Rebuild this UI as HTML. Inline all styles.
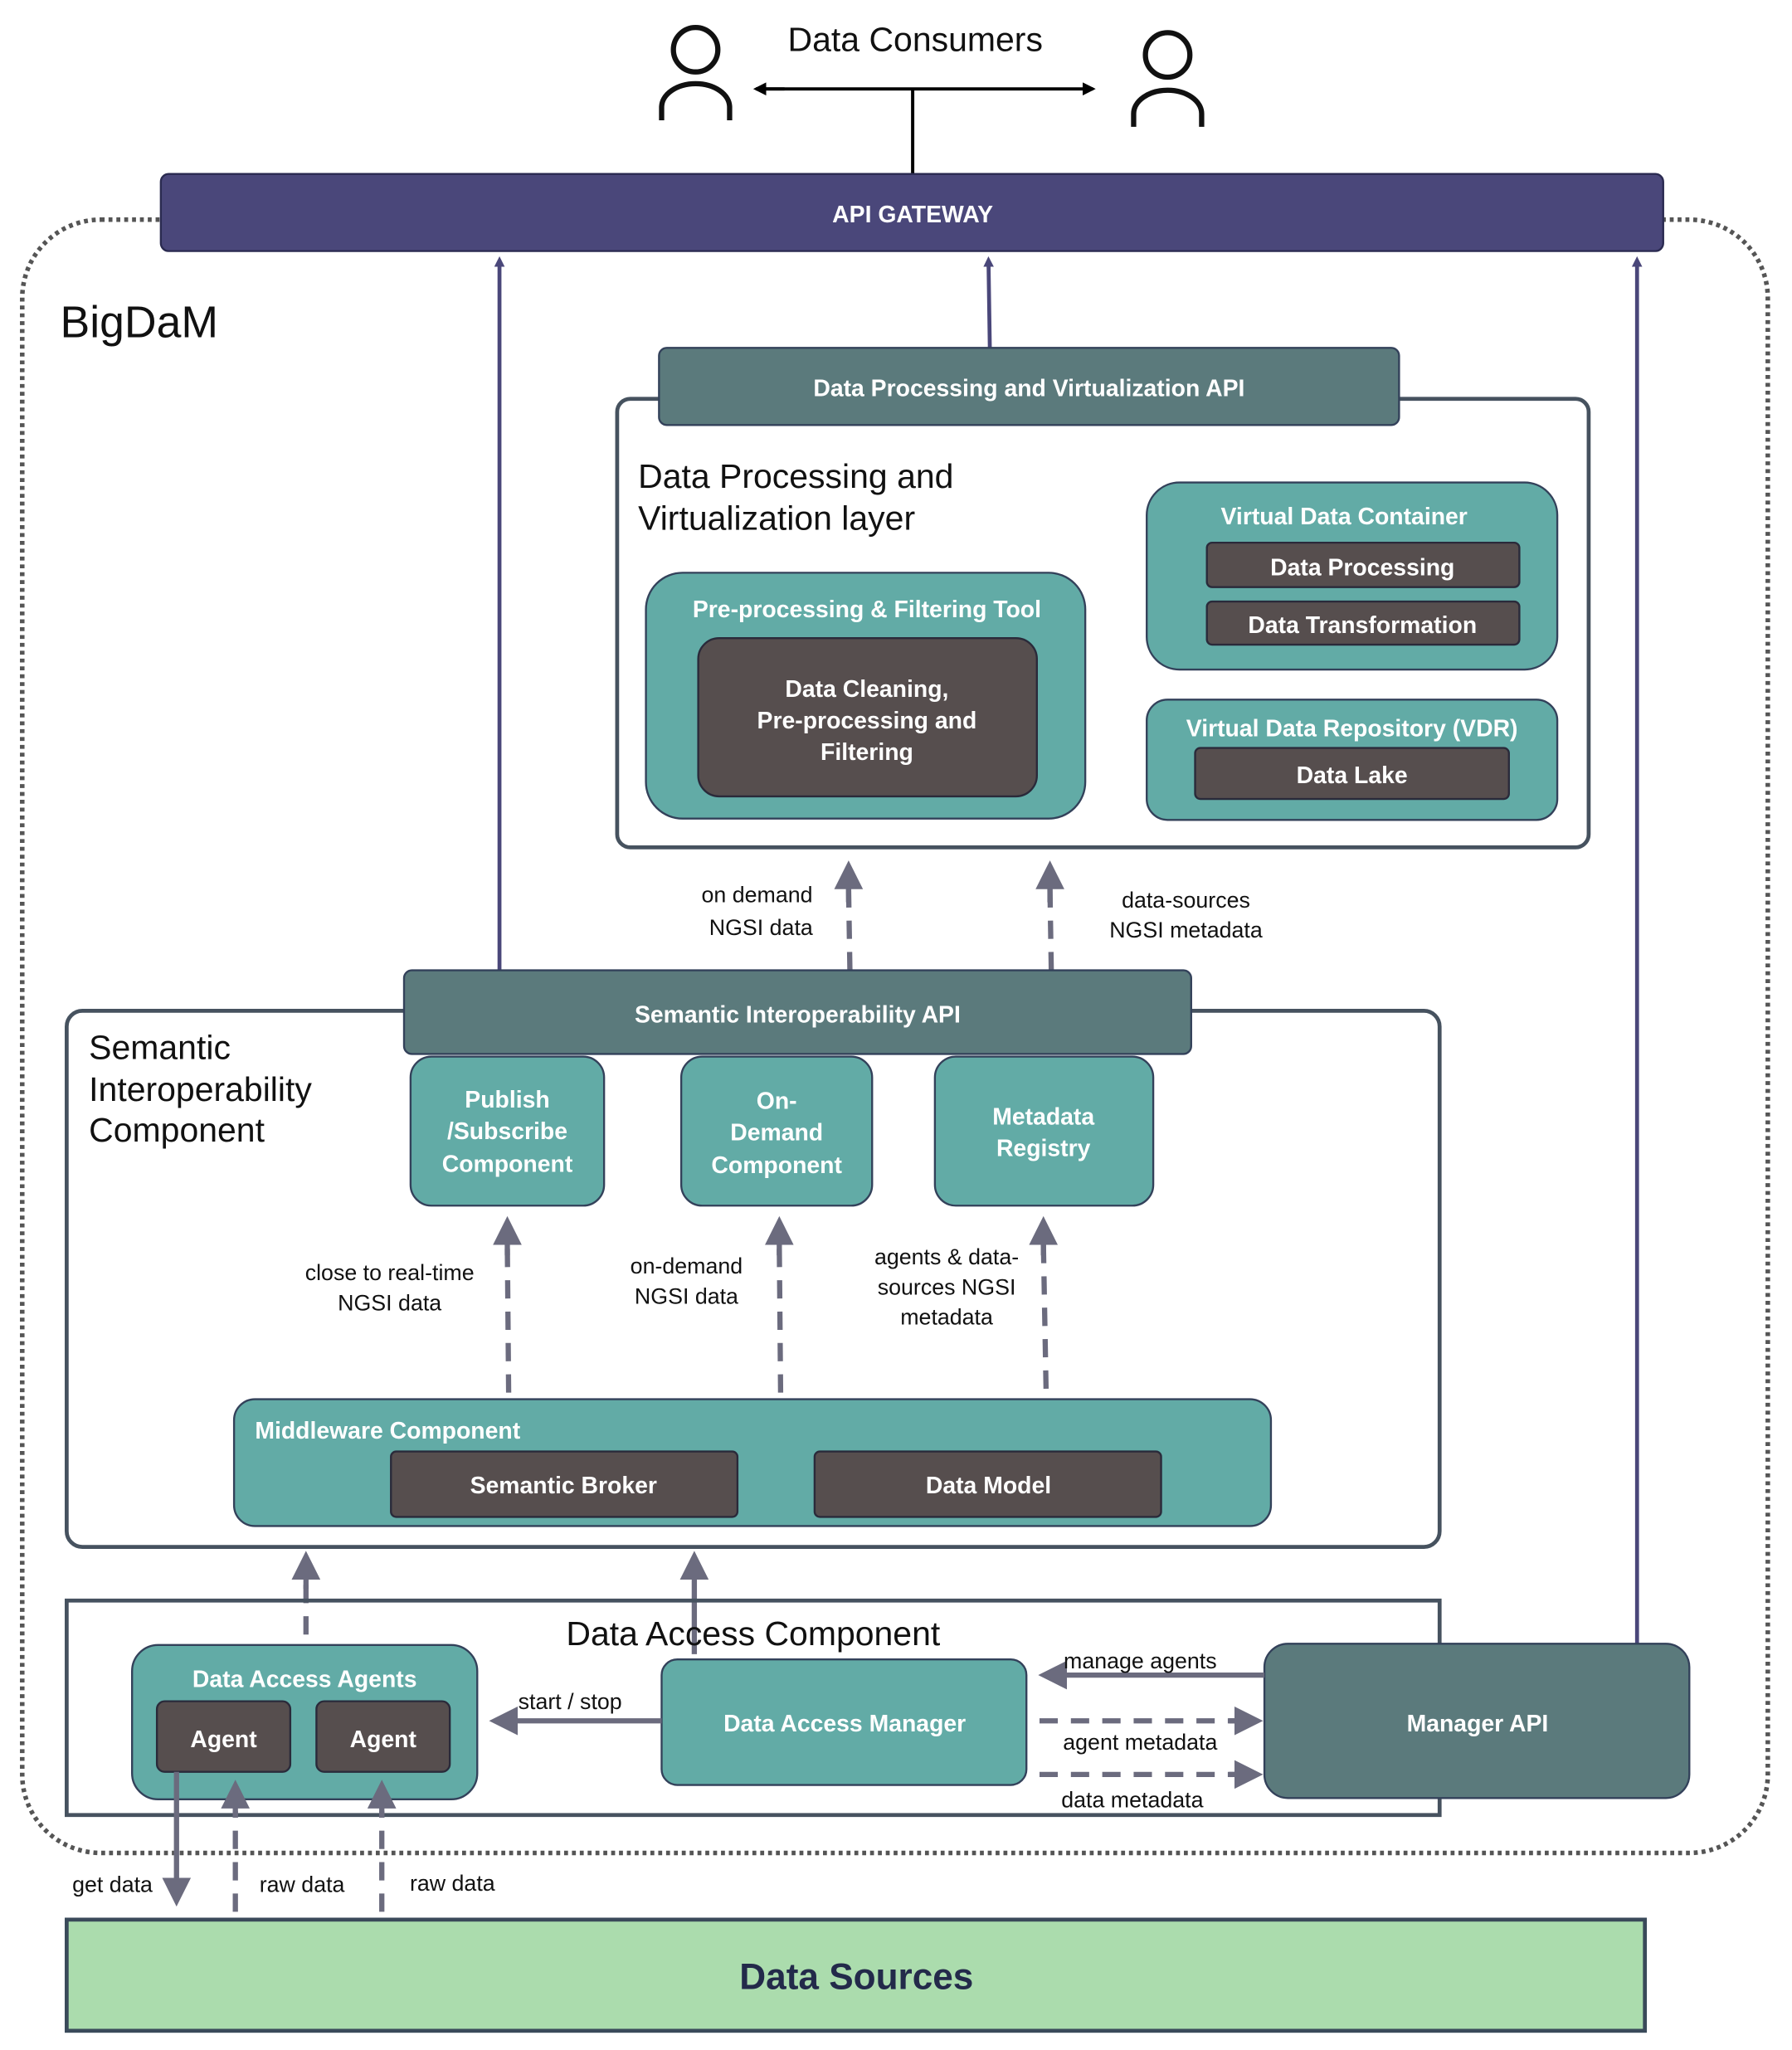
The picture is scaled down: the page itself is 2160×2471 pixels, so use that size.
<!DOCTYPE html>
<html><head><meta charset="utf-8"><style>
html,body{margin:0;padding:0;background:#fff;}
svg{display:block;}
text{font-family:"Liberation Sans",Arial,sans-serif;}
.w{fill:#fff;font-weight:bold;font-size:18px;text-anchor:middle;}
.l{fill:#111;font-size:17px;text-anchor:middle;}
.h{fill:#111;font-size:26px;}
.teal{fill:#62aba6;stroke:#33415a;stroke-width:1.5;}
.dark{fill:#564e4e;stroke:#2a2a3a;stroke-width:1.5;}
.slate{fill:#5b7a7c;stroke:#33415a;stroke-width:1.5;}
.frame{fill:none;stroke:#46525f;stroke-width:3;}
.up{stroke:#4a477a;stroke-width:3;fill:none;}
.dash{stroke:#6b6b7e;stroke-width:4;stroke-dasharray:14 10;fill:none;}
.sol{stroke:#6b6b7e;stroke-width:4;fill:none;}
</style></head><body>
<svg width="2160" height="2471" viewBox="0 0 1370.5 1567.7" preserveAspectRatio="none" xmlns="http://www.w3.org/2000/svg">
<defs>
<marker id="ah" markerWidth="8" markerHeight="8" refX="4" refY="4" orient="auto" markerUnits="userSpaceOnUse"><path d="M0,0 L8,4 L0,8 z" fill="#4a477a"/></marker>
<marker id="gh" markerWidth="22" markerHeight="22" refX="4" refY="11" orient="auto" markerUnits="userSpaceOnUse"><path d="M0,0 L22,11 L0,22 z" fill="#6b6b7e"/></marker>
<marker id="bh" markerWidth="10" markerHeight="10" refX="8" refY="5" orient="auto" markerUnits="userSpaceOnUse"><path d="M0,0 L10,5 L0,10 z" fill="#000"/></marker>
</defs>
<rect x="17" y="168" width="1335" height="1249" rx="60" fill="none" stroke="#555" stroke-width="3.5" stroke-dasharray="3 3"/>
<circle cx="532" cy="38" r="17" fill="none" stroke="#111" stroke-width="4"/>
<path d="M506,92 V82 A26,18 0 0 1 558,82 V92" fill="none" stroke="#111" stroke-width="4"/>
<circle cx="893" cy="42" r="17" fill="none" stroke="#111" stroke-width="4"/>
<path d="M867,97 V87 A26,18 0 0 1 919,87 V97" fill="none" stroke="#111" stroke-width="4"/>
<text x="700" y="39" font-size="26" text-anchor="middle" fill="#111">Data Consumers</text>
<line x1="584" y1="68" x2="836" y2="68" stroke="#000" stroke-width="2.5" marker-end="url(#bh)"/>
<line x1="600" y1="68" x2="578" y2="68" stroke="#000" stroke-width="2.5" marker-end="url(#bh)"/>
<line x1="698" y1="68" x2="698" y2="133" stroke="#000" stroke-width="2.5"/>
<rect x="123" y="133" width="1149" height="59" rx="6" fill="#4a477a" stroke="#2a2a50" stroke-width="1.5"/>
<text x="698" y="170" class="w">API GATEWAY</text>
<text x="46" y="258" font-size="34" fill="#111">BigDaM</text>
<line x1="382" y1="742" x2="382" y2="200" class="up" marker-end="url(#ah)"/>
<line x1="757" y1="266" x2="756" y2="200" class="up" marker-end="url(#ah)"/>
<line x1="1252" y1="1262" x2="1252" y2="200" class="up" marker-end="url(#ah)"/>
<rect x="472" y="305" width="743" height="343" rx="10" class="frame"/>
<rect x="504" y="266" width="566" height="59" rx="6" class="slate"/>
<text x="787" y="303" class="w">Data Processing and Virtualization API</text>
<text x="488" y="373" class="h">Data Processing and</text>
<text x="488" y="405" class="h">Virtualization layer</text>
<rect x="494" y="438" width="336" height="188" rx="28" class="teal"/>
<text x="663" y="472" class="w">Pre-processing &amp; Filtering Tool</text>
<rect x="534" y="488" width="259" height="121" rx="16" class="dark"/>
<text x="663" y="533" class="w">Data Cleaning,</text>
<text x="663" y="557" class="w">Pre-processing and</text>
<text x="663" y="581" class="w">Filtering</text>
<rect x="877" y="369" width="314" height="143" rx="25" class="teal"/>
<text x="1028" y="401" class="w">Virtual Data Container</text>
<rect x="923" y="415" width="239" height="34" rx="4" class="dark"/>
<text x="1042" y="440" class="w" font-size="19">Data Processing</text>
<rect x="923" y="460" width="239" height="33" rx="4" class="dark"/>
<text x="1042" y="484" class="w" font-size="19">Data Transformation</text>
<rect x="877" y="535" width="314" height="92" rx="16" class="teal"/>
<text x="1034" y="563" class="w">Virtual Data Repository (VDR)</text>
<rect x="914" y="572" width="240" height="39" rx="4" class="dark"/>
<text x="1034" y="599" class="w" font-size="19">Data Lake</text>
<line x1="650" y1="742" x2="649" y2="680" class="dash"/>
<line x1="649" y1="690" x2="649" y2="676" class="sol" marker-end="url(#gh)"/>
<line x1="804" y1="742" x2="803" y2="680" class="dash"/>
<line x1="803" y1="690" x2="803" y2="676" class="sol" marker-end="url(#gh)"/>
<text x="579" y="690" class="l">on demand</text>
<text x="582" y="715" class="l">NGSI data</text>
<text x="907" y="694" class="l">data-sources</text>
<text x="907" y="717" class="l">NGSI metadata</text>
<rect x="51" y="773" width="1050" height="410" rx="12" class="frame"/>
<rect x="309" y="742" width="602" height="64" rx="6" class="slate"/>
<text x="610" y="782" class="w">Semantic Interoperability API</text>
<text x="68" y="810" class="h">Semantic</text>
<text x="68" y="842" class="h">Interoperability</text>
<text x="68" y="873" class="h">Component</text>
<rect x="314" y="808" width="148" height="114" rx="16" class="teal"/>
<text x="388" y="847" class="w" font-size="19">Publish</text>
<text x="388" y="871" class="w" font-size="19">/Subscribe</text>
<text x="388" y="896" class="w" font-size="19">Component</text>
<rect x="521" y="808" width="146" height="114" rx="16" class="teal"/>
<text x="594" y="848" class="w" font-size="19">On-</text>
<text x="594" y="872" class="w" font-size="19">Demand</text>
<text x="594" y="897" class="w" font-size="19">Component</text>
<rect x="715" y="808" width="167" height="114" rx="16" class="teal"/>
<text x="798" y="860" class="w" font-size="19">Metadata</text>
<text x="798" y="884" class="w" font-size="19">Registry</text>
<line x1="389" y1="1065" x2="388" y2="952" class="dash"/>
<line x1="388" y1="960" x2="388" y2="948" class="sol" marker-end="url(#gh)"/>
<line x1="597" y1="1065" x2="596" y2="952" class="dash"/>
<line x1="596" y1="960" x2="596" y2="948" class="sol" marker-end="url(#gh)"/>
<line x1="800" y1="1062" x2="798" y2="952" class="dash"/>
<line x1="798" y1="960" x2="798" y2="948" class="sol" marker-end="url(#gh)"/>
<text x="298" y="979" class="l">close to real-time</text>
<text x="298" y="1002" class="l">NGSI data</text>
<text x="525" y="974" class="l">on-demand</text>
<text x="525" y="997" class="l">NGSI data</text>
<text x="724" y="967" class="l">agents &amp; data-</text>
<text x="724" y="990" class="l">sources NGSI</text>
<text x="724" y="1013" class="l">metadata</text>
<rect x="179" y="1070" width="793" height="97" rx="16" class="teal"/>
<text x="195" y="1100" class="w" style="text-anchor:start">Middleware Component</text>
<rect x="299" y="1110" width="265" height="50" rx="4" class="dark"/>
<text x="431" y="1142" class="w" font-size="19">Semantic Broker</text>
<rect x="623" y="1110" width="265" height="50" rx="4" class="dark"/>
<text x="756" y="1142" class="w" font-size="19">Data Model</text>
<line x1="234" y1="1250" x2="234" y2="1210" class="dash"/>
<line x1="234" y1="1215" x2="234" y2="1204" class="sol" marker-end="url(#gh)"/>
<line x1="531" y1="1265" x2="531" y2="1204" class="sol" marker-end="url(#gh)"/>
<rect x="51" y="1224" width="1050" height="164" fill="none" stroke="#46525f" stroke-width="3"/>
<text x="576" y="1258" class="h" text-anchor="middle">Data Access Component</text>
<rect x="101" y="1258" width="264" height="118" rx="20" class="teal"/>
<text x="233" y="1290" class="w">Data Access Agents</text>
<rect x="120" y="1301" width="102" height="54" rx="6" class="dark"/>
<text x="171" y="1336" class="w" font-size="20">Agent</text>
<rect x="242" y="1301" width="102" height="54" rx="6" class="dark"/>
<text x="293" y="1336" class="w" font-size="20">Agent</text>
<rect x="506" y="1269" width="279" height="96" rx="12" class="teal"/>
<text x="646" y="1324" class="w" font-size="19">Data Access Manager</text>
<rect x="967" y="1257" width="325" height="118" rx="18" class="slate"/>
<text x="1130" y="1324" class="w" font-size="19">Manager API</text>
<line x1="506" y1="1316" x2="392" y2="1316" class="sol" marker-end="url(#gh)"/>
<text x="436" y="1307" class="l">start / stop</text>
<line x1="967" y1="1281" x2="812" y2="1281" class="sol" marker-end="url(#gh)"/>
<text x="872" y="1276" class="l">manage agents</text>
<line x1="795" y1="1316" x2="950" y2="1316" class="dash"/>
<line x1="940" y1="1316" x2="948" y2="1316" class="sol" marker-end="url(#gh)"/>
<text x="872" y="1338" class="l">agent metadata</text>
<line x1="795" y1="1357" x2="950" y2="1357" class="dash"/>
<line x1="940" y1="1357" x2="948" y2="1357" class="sol" marker-end="url(#gh)"/>
<text x="866" y="1382" class="l">data metadata</text>
<rect x="51" y="1468" width="1207" height="85" fill="#abdcad" stroke="#3a4a5a" stroke-width="3"/>
<text x="655" y="1521" font-size="28" text-anchor="middle" fill="#232a4a" font-weight="bold">Data Sources</text>
<line x1="135" y1="1355" x2="135" y2="1440" class="sol" marker-end="url(#gh)"/>
<text x="86" y="1447" class="l">get data</text>
<line x1="180" y1="1462" x2="180" y2="1385" class="dash"/>
<line x1="180" y1="1390" x2="180" y2="1379" class="sol" marker-end="url(#gh)"/>
<line x1="292" y1="1462" x2="292" y2="1385" class="dash"/>
<line x1="292" y1="1390" x2="292" y2="1379" class="sol" marker-end="url(#gh)"/>
<text x="231" y="1447" class="l">raw data</text>
<text x="346" y="1446" class="l">raw data</text>
</svg>
</body></html>
